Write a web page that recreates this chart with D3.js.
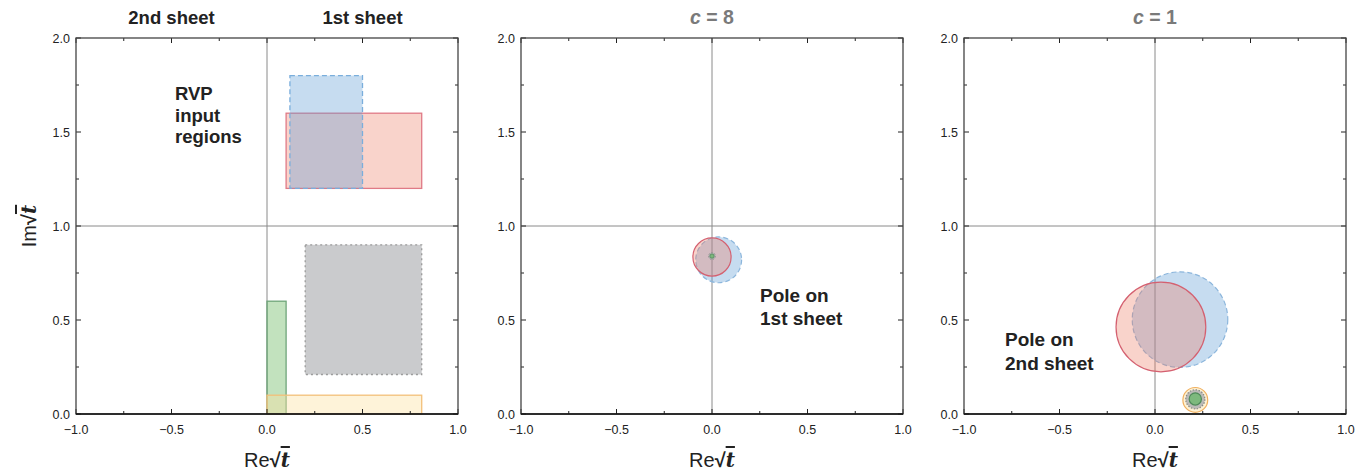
<!DOCTYPE html>
<html><head><meta charset="utf-8">
<script src="https://cdn.jsdelivr.net/npm/d3@7"></script>
<style>body{margin:0;background:#fff}svg{display:block}text{font-family:"Liberation Sans",Arial,sans-serif}</style>
</head><body><svg id="c" width="1371" height="472"></svg>
<script>
// ---- data ----
const regionNames = ["red", "blue", "gray", "green", "yellow"];
const regionX0 = [0.10, 0.12, 0.20, 0.00, 0.00];
const regionX1 = [0.81, 0.50, 0.81, 0.10, 0.81];
const regionY0 = [1.20, 1.20, 0.21, 0.00, 0.00];
const regionY1 = [1.60, 1.80, 0.90, 0.60, 0.10];

const circleNames = ["blue", "red", "yellow", "gray", "green"];
const c8CX = [0.035, 0.00, 0.00, 0.00, 0.00];
const c8CY = [0.820, 0.835, 0.84, 0.84, 0.84];
const c8R  = [0.120, 0.100, 0.000, 0.018, 0.011];
const c1CX = [0.131, 0.031, 0.211, 0.211, 0.211];
const c1CY = [0.502, 0.463, 0.075, 0.078, 0.080];
const c1R  = [0.250, 0.235, 0.065, 0.050, 0.032];

const xTicks = [-1.0, -0.5, 0.0, 0.5, 1.0];
const yTicks = [0.0, 0.5, 1.0, 1.5, 2.0];
const minorX = [-0.75, -0.25, 0.25, 0.75];
const minorY = [0.25, 0.75, 1.25, 1.75];
const panelTitles = ["", "= 8", "= 1"];

// ---- styles ----
const style = {
  red:    {fill: "rgba(238,120,96,0.33)", stroke: "#e07a86", dash: null},
  blue:   {fill: "rgba(91,155,213,0.35)", stroke: "#7aaedc", dash: "5,3"},
  gray:   {fill: "rgba(190,191,194,0.82)", stroke: "#9a9a9a", dash: "2,3"},
  green:  {fill: "rgba(120,190,110,0.45)", stroke: "#6fa57a", dash: null},
  yellow: {fill: "rgba(252,226,160,0.40)", stroke: "#f3c07a", dash: null}
};
const circleStyle = {
  red:    {fill: "rgba(238,120,96,0.33)", stroke: "#d46070", dash: null},
  blue:   {fill: "rgba(91,155,213,0.35)", stroke: "#8cb6dc", dash: "5,3"},
  yellow: {fill: "rgba(252,226,160,0.45)", stroke: "#f0b060", dash: null},
  gray:   {fill: "rgba(175,176,178,0.85)", stroke: "#888", dash: "1.5,1.5"},
  green:  {fill: "rgba(110,185,110,0.8)", stroke: "#4f8a5a", dash: null}
};

const svg = d3.select("#c");
const panelLeft = [76, 521, 964];
const W = 382, plotTop = 38, H = 376;

function panel(i) {
  const x = d3.scaleLinear().domain([-1, 1]).range([panelLeft[i], panelLeft[i] + W]);
  const y = d3.scaleLinear().domain([0, 2]).range([plotTop + H, plotTop]);
  const g = svg.append("g");
  g.append("line").attr("x1", x(0)).attr("x2", x(0)).attr("y1", y(0)).attr("y2", y(2))
    .attr("stroke", "#8a8a8a").attr("stroke-width", 1);
  g.append("line").attr("x1", x(-1)).attr("x2", x(1)).attr("y1", y(1)).attr("y2", y(1))
    .attr("stroke", "#8a8a8a").attr("stroke-width", 1);
  return {x, y, g};
}

function sqrtT(t) {
  t.append("tspan").attr("font-weight", "bold").text("\u221A");
  t.append("tspan").attr("font-weight", "bold").attr("font-style", "italic")
    .attr("font-family", "DejaVu Serif").style("text-decoration", "overline").text("t");
}

function frame(p) {
  const {x, y, g} = p;
  const tg = g.append("g").attr("stroke", "#222").attr("stroke-width", 1);
  xTicks.concat(minorX).forEach(v => {
    const len = xTicks.includes(v) ? 5 : 3;
    tg.append("line").attr("x1", x(v)).attr("x2", x(v)).attr("y1", y(0)).attr("y2", y(0) - len);
    tg.append("line").attr("x1", x(v)).attr("x2", x(v)).attr("y1", y(2)).attr("y2", y(2) + len);
  });
  yTicks.concat(minorY).forEach(v => {
    const len = yTicks.includes(v) ? 5 : 3;
    tg.append("line").attr("x1", x(-1)).attr("x2", x(-1) + len).attr("y1", y(v)).attr("y2", y(v));
    tg.append("line").attr("x1", x(1)).attr("x2", x(1) - len).attr("y1", y(v)).attr("y2", y(v));
  });
  g.append("rect").attr("x", x(-1)).attr("y", y(2)).attr("width", x(1) - x(-1)).attr("height", y(0) - y(2))
    .attr("fill", "none").attr("stroke", "#444").attr("stroke-width", 1.3);
  g.append("line").attr("x1", x(-1)).attr("x2", x(1)).attr("y1", y(0)).attr("y2", y(0))
    .attr("stroke", "#111").attr("stroke-width", 1.6);
  xTicks.forEach(v => g.append("text").attr("x", x(v)).attr("y", y(0) + 20).attr("text-anchor", "middle")
    .attr("font-size", 12.5).attr("fill", "#222").text(d3.format(".1f")(v)));
  yTicks.forEach(v => g.append("text").attr("x", x(-1) - 6).attr("y", y(v) + 4.5).attr("text-anchor", "end")
    .attr("font-size", 12.5).attr("fill", "#222").text(d3.format(".1f")(v)));
  const t = g.append("text").attr("x", x(0)).attr("y", 467).attr("text-anchor", "middle")
    .attr("font-size", 20).attr("fill", "#222");
  t.append("tspan").text("Re");
  sqrtT(t);
}

// ---- panel 1 ----
const p1 = panel(0);
regionNames.forEach((n, i) => {
  const s = style[n];
  p1.g.append("rect")
    .attr("x", p1.x(regionX0[i])).attr("y", p1.y(regionY1[i]))
    .attr("width", p1.x(regionX1[i]) - p1.x(regionX0[i]))
    .attr("height", p1.y(regionY0[i]) - p1.y(regionY1[i]))
    .attr("fill", s.fill).attr("stroke", s.stroke).attr("stroke-width", 1.3)
    .attr("stroke-dasharray", s.dash);
});
frame(p1);
p1.g.append("text").attr("x", p1.x(-0.5)).attr("y", 24).attr("text-anchor", "middle")
  .attr("font-size", 18.5).attr("font-weight", "bold").attr("fill", "#222").text("2nd sheet");
p1.g.append("text").attr("x", p1.x(0.5)).attr("y", 24).attr("text-anchor", "middle")
  .attr("font-size", 18.5).attr("font-weight", "bold").attr("fill", "#222").text("1st sheet");
["RVP", "input", "regions"].forEach((s, k) => p1.g.append("text").attr("x", 175).attr("y", 100 + k * 21.5)
  .attr("font-size", 18.5).attr("font-weight", "bold").attr("fill", "#222").text(s));
const yt = svg.append("text").attr("transform", "translate(36," + (plotTop + H / 2) + ") rotate(-90)")
  .attr("text-anchor", "middle").attr("font-size", 20).attr("fill", "#222");
yt.append("tspan").text("Im");
sqrtT(yt);

// ---- circle panels ----
function circles(p, cx, cy, r) {
  circleNames.forEach((n, i) => {
    if (r[i] <= 0) return;
    const s = circleStyle[n];
    p.g.append("circle").attr("cx", p.x(cx[i])).attr("cy", p.y(cy[i]))
      .attr("r", p.x(r[i]) - p.x(0))
      .attr("fill", s.fill).attr("stroke", s.stroke).attr("stroke-width", r[i] < 0.02 ? 0.8 : 1.2)
      .attr("stroke-dasharray", s.dash);
  });
}
function title(p, txt) {
  const t = p.g.append("text").attr("x", p.x(0)).attr("y", 24).attr("text-anchor", "middle")
    .attr("font-size", 19.5).attr("font-weight", "bold").attr("fill", "#7a7a7a");
  t.append("tspan").attr("font-style", "italic").text("c");
  t.append("tspan").text(" " + txt);
}
const p2 = panel(1);
circles(p2, c8CX, c8CY, c8R);
frame(p2);
title(p2, panelTitles[1]);
["Pole on", "1st sheet"].forEach((s, k) => p2.g.append("text").attr("x", 760).attr("y", 302 + k * 23)
  .attr("font-size", 19).attr("font-weight", "bold").attr("fill", "#222").text(s));

const p3 = panel(2);
circles(p3, c1CX, c1CY, c1R);
frame(p3);
title(p3, panelTitles[2]);
["Pole on", "2nd sheet"].forEach((s, k) => p3.g.append("text").attr("x", 1005).attr("y", 346 + k * 24)
  .attr("font-size", 19).attr("font-weight", "bold").attr("fill", "#222").text(s));
</script></body></html>
